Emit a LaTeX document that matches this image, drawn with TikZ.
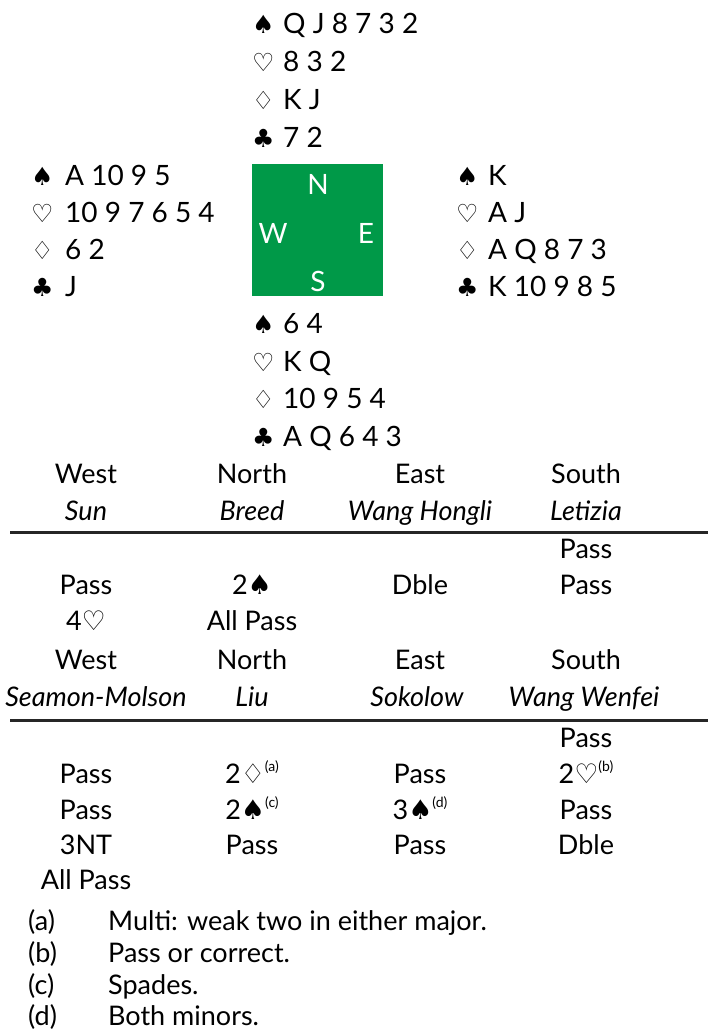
\documentclass[tikz,border=0pt]{standalone}
\usepackage{fontspec}
\setmainfont{Lato}
\newfontfamily\suitf{DejaVu Sans}
\definecolor{compassgreen}{RGB}{0,153,72}
\newcommand{\spd}{{\suitf\char"2660}}
\newcommand{\hrt}{{\suitf\char"2661}}
\newcommand{\dmd}{{\suitf\char"2662}}
\newcommand{\clb}{{\suitf\char"2663}}
\newcommand{\fn}[1]{\raisebox{0.85ex}{\fontsize{14}{14}\selectfont(#1)}}
\begin{document}
\begin{tikzpicture}[x=1pt,y=-1pt,
  hand/.style={anchor=base west, inner sep=0pt, font=\fontsize{28}{30}\selectfont},
  suitsym/.style={anchor=base west, inner sep=0pt, font=\fontsize{25}{26}\selectfont},
  compassl/.style={text=white, inner sep=0pt, font=\fontsize{28}{28}\selectfont},
  bid/.style={anchor=base, inner sep=0pt, font=\fontsize{27}{28}\selectfont},
  player/.style={anchor=base, inner sep=0pt, font=\itshape\fontsize{27}{28}\selectfont},
  note/.style={anchor=base west, inner sep=0pt, font=\fontsize{27}{28}\selectfont},
  rulel/.style={line width=3pt, black!85}]
\useasboundingbox (0,0) rectangle (713,1030);
% North hand
\node[suitsym] (ns) at (252,34) {\spd};
\node[hand] (nst) at (283,34) {Q J 8 7 3 2};
\node[suitsym] (nh) at (252,72) {\hrt};
\node[hand] (nht) at (283,72) {8 3 2};
\node[suitsym] (nd) at (252,110) {\dmd};
\node[hand] (ndt) at (283,110) {K J};
\node[suitsym] (nc) at (252,147) {\clb};
\node[hand] (nct) at (283,147) {7 2};
% West hand
\node[suitsym] (ws) at (31,185) {\spd};
\node[hand] (wst) at (65,185) {A 10 9 5};
\node[suitsym] (wh) at (31,222) {\hrt};
\node[hand] (wht) at (65,222) {10 9 7 6 5 4};
\node[suitsym] (wd) at (31,259) {\dmd};
\node[hand] (wdt) at (65,259) {6 2};
\node[suitsym] (wc) at (31,296) {\clb};
\node[hand] (wct) at (65,296) {J};
% East hand
\node[suitsym] (es) at (456,185) {\spd};
\node[hand] (est) at (488,185) {K};
\node[suitsym] (eh) at (456,222) {\hrt};
\node[hand] (eht) at (488,222) {A J};
\node[suitsym] (ed) at (456,259) {\dmd};
\node[hand] (edt) at (488,259) {A Q 8 7 3};
\node[suitsym] (ec) at (456,296) {\clb};
\node[hand] (ect) at (488,296) {K 10 9 8 5};
% South hand
\node[suitsym] (ss) at (252,333) {\spd};
\node[hand] (sst) at (283,333) {6 4};
\node[suitsym] (sh) at (252,371) {\hrt};
\node[hand] (sht) at (283,371) {K Q};
\node[suitsym] (sd) at (252,408) {\dmd};
\node[hand] (sdt) at (283,408) {10 9 5 4};
\node[suitsym] (sc) at (252,446) {\clb};
\node[hand] (sct) at (283,446) {A Q 6 4 3};
% Compass
\node[fill=compassgreen, minimum width=131pt, minimum height=132pt, inner sep=0pt, anchor=north west] (box) at (252,164) {};
\node[compassl] (cn) at (318,184) {N};
\node[compassl] (cw) at (273,233) {W};
\node[compassl] (ce) at (366,233) {E};
\node[compassl] (cs) at (318,281) {S};
% Auction 1
\node[bid] (h1w) at (86,483) {West};
\node[bid] (h1n) at (252,483) {North};
\node[bid] (h1e) at (420,483) {East};
\node[bid] (h1s) at (586,483) {South};
\node[player] (p1w) at (86,520) {Sun};
\node[player] (p1n) at (252,520) {Breed};
\node[player] (p1e) at (420,520) {Wang Hongli};
\node[player] (p1s) at (586,520) {Letizia};
\coordinate (r1a) at (10,532);
\coordinate (r1b) at (708,532);
\draw[rulel] (r1a) -- (r1b);
\node[bid] (a1s1) at (586,558) {Pass};
\node[bid] (a1w2) at (86,594) {Pass};
\node[bid] (a1n2) at (252,594) {2\spd};
\node[bid] (a1e2) at (420,594) {Dble};
\node[bid] (a1s2) at (586,594) {Pass};
\node[bid] (a1w3) at (86,630) {4\hrt};
\node[bid] (a1n3) at (252,630) {All Pass};
% Auction 2
\node[bid] (h2w) at (86,669) {West};
\node[bid] (h2n) at (252,669) {North};
\node[bid] (h2e) at (420,669) {East};
\node[bid] (h2s) at (586,669) {South};
\node[player] (p2w) at (96,706) {Seamon-Molson};
\node[player] (p2n) at (252,706) {Liu};
\node[player] (p2e) at (417,706) {Sokolow};
\node[player] (p2s) at (584,706) {Wang Wenfei};
\coordinate (r2a) at (10,720);
\coordinate (r2b) at (708,720);
\draw[rulel] (r2a) -- (r2b);
\node[bid] (a2s1) at (586,747) {Pass};
\node[bid] (a2w2) at (86,783) {Pass};
\node[bid] (a2n2) at (252,783) {2\dmd\fn{a}};
\node[bid] (a2e2) at (420,783) {Pass};
\node[bid] (a2s2) at (586,783) {2\hrt\fn{b}};
\node[bid] (a2w3) at (86,819) {Pass};
\node[bid] (a2n3) at (252,819) {2\spd\fn{c}};
\node[bid] (a2e3) at (420,819) {3\spd\fn{d}};
\node[bid] (a2s3) at (586,819) {Pass};
\node[bid] (a2w4) at (86,854) {3NT};
\node[bid] (a2n4) at (252,854) {Pass};
\node[bid] (a2e4) at (420,854) {Pass};
\node[bid] (a2s4) at (586,854) {Dble};
\node[bid] (a2w5) at (86,889) {All Pass};
% Notes
\node[note] (fa) at (28,930) {(a)};
\node[note] (fat) at (108,930) {Multi: weak two in either major.};
\node[note] (fb) at (28,962) {(b)};
\node[note] (fbt) at (108,962) {Pass or correct.};
\node[note] (fc) at (28,994) {(c)};
\node[note] (fct) at (108,994) {Spades.};
\node[note] (fd) at (28,1025) {(d)};
\node[note] (fdt) at (108,1025) {Both minors.};
\end{tikzpicture}
\end{document}
